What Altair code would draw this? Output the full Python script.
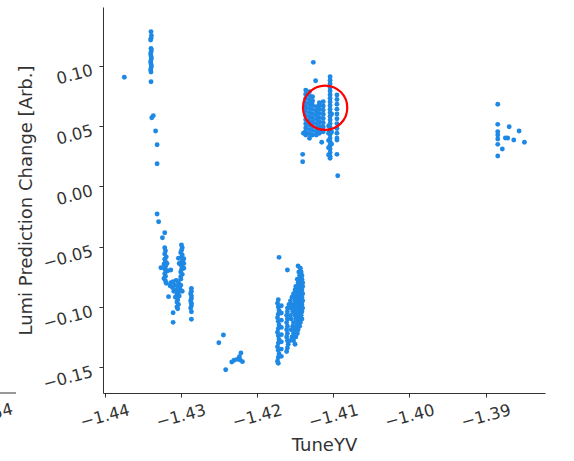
import altair as alt
import pandas as pd

# (TuneYV, SHAP value) pairs, one list per fill period
period_a = [
    (-1.4374, 0.0904),
    (-1.4339, 0.1282), (-1.43385, 0.1249), (-1.4339, 0.1227), (-1.43395, 0.1213),
    (-1.4339, 0.1144), (-1.43385, 0.1130), (-1.4339, 0.1114), (-1.43395, 0.1097),
    (-1.4339, 0.1081), (-1.43385, 0.1064), (-1.4339, 0.1048), (-1.43395, 0.1031),
    (-1.4339, 0.1014), (-1.43385, 0.0998), (-1.4339, 0.0981), (-1.43395, 0.0965),
    (-1.4339, 0.0948), (-1.4339, 0.0867),
    (-1.4338, 0.0569), (-1.4336, 0.0585), (-1.4333, 0.0459), (-1.4331, 0.0345),
    (-1.4331, 0.0187),
]

period_b = [
    (-1.4331, -0.0230), (-1.4329, -0.0294), (-1.4321, -0.0385), (-1.4324, -0.0426),
    (-1.4321, -0.0509), (-1.4320, -0.0535), (-1.4321, -0.0560), (-1.4319, -0.0585),
    (-1.4321, -0.0605), (-1.4320, -0.0625), (-1.4322, -0.0645), (-1.4320, -0.0665),
    (-1.4321, -0.0685), (-1.4319, -0.0705), (-1.4321, -0.0725), (-1.4320, -0.0745),
    (-1.4322, -0.0765), (-1.4320, -0.0785), (-1.4319, -0.0804),
    (-1.4326, -0.0675), (-1.4314, -0.0824), (-1.4313, -0.0694), (-1.4317, -0.0700),
    (-1.4318, -0.0640),
    (-1.4299, -0.0487), (-1.4298, -0.0510), (-1.4299, -0.0530), (-1.4300, -0.0550),
    (-1.4298, -0.0570), (-1.4299, -0.0590), (-1.4297, -0.0610), (-1.4299, -0.0630),
    (-1.4300, -0.0650), (-1.4298, -0.0670), (-1.4299, -0.0690), (-1.4300, -0.0710),
    (-1.4298, -0.0730), (-1.4300, -0.0750),
    (-1.4303, -0.0597), (-1.4296, -0.0680), (-1.4296, -0.0600), (-1.4302, -0.0640),
    (-1.4296, -0.0640),
    (-1.4306, -0.0780), (-1.4303, -0.0800), (-1.4308, -0.0820), (-1.4304, -0.0830),
    (-1.4301, -0.0850), (-1.4306, -0.0860), (-1.4309, -0.0870), (-1.4303, -0.0880),
    (-1.4305, -0.0900), (-1.4302, -0.0910), (-1.4307, -0.0920), (-1.4304, -0.0940),
    (-1.4305, -0.0960), (-1.4303, -0.0980), (-1.4300, -0.0820), (-1.4298, -0.0870),
    (-1.4311, -0.0840), (-1.4313, -0.0800), (-1.4310, -0.0790), (-1.4300, -0.0770),
    (-1.4305, -0.1000), (-1.4304, -0.1015),
    (-1.4316, -0.0915), (-1.4310, -0.1048), (-1.4310, -0.1128),
    (-1.4286, -0.0846), (-1.4286, -0.0870), (-1.4287, -0.0890), (-1.4286, -0.0910),
    (-1.4286, -0.0930), (-1.4287, -0.0950), (-1.4286, -0.0970), (-1.4286, -0.0990),
    (-1.4287, -0.1010), (-1.4286, -0.1040), (-1.4286, -0.1103),
]

period_c = [
    (-1.4244, -0.1233), (-1.4250, -0.1297), (-1.4241, -0.1521), (-1.4233, -0.1457),
    (-1.4230, -0.1443), (-1.4226, -0.1435), (-1.4223, -0.1413), (-1.4221, -0.1382),
    (-1.4219, -0.1454), (-1.4222, -0.1440),
]

period_d = [
    (-1.4171, -0.0589), (-1.4160, -0.0694), (-1.4146, -0.0661),
    (-1.4143, -0.068),
    (-1.4142, -0.071), (-1.4145, -0.071),
    (-1.4141, -0.074), (-1.4144, -0.074),
    (-1.4141, -0.077), (-1.4144, -0.077), (-1.4147, -0.077),
    (-1.4140, -0.080), (-1.4143, -0.080), (-1.4146, -0.080),
    (-1.4140, -0.083), (-1.4143, -0.083), (-1.4146, -0.083), (-1.4149, -0.083),
    (-1.4141, -0.086), (-1.4144, -0.086), (-1.4147, -0.086), (-1.4150, -0.086),
    (-1.4140, -0.089), (-1.4143, -0.089), (-1.4146, -0.089), (-1.4149, -0.089),
    (-1.4152, -0.089),
    (-1.4141, -0.092), (-1.4144, -0.092), (-1.4147, -0.092), (-1.4150, -0.092),
    (-1.4154, -0.092),
    (-1.4140, -0.095), (-1.4143, -0.095), (-1.4146, -0.095), (-1.4150, -0.095),
    (-1.4156, -0.095),
    (-1.4141, -0.098), (-1.4145, -0.098), (-1.4149, -0.098), (-1.4153, -0.098),
    (-1.4158, -0.098),
    (-1.4140, -0.101), (-1.4144, -0.101), (-1.4148, -0.101), (-1.4152, -0.101),
    (-1.4156, -0.101), (-1.4160, -0.101),
    (-1.4141, -0.104), (-1.4145, -0.104), (-1.4149, -0.104), (-1.4153, -0.104),
    (-1.4160, -0.104),
    (-1.4142, -0.107), (-1.4146, -0.107), (-1.4150, -0.107), (-1.4156, -0.107),
    (-1.4161, -0.107),
    (-1.4141, -0.110), (-1.4145, -0.110), (-1.4149, -0.110), (-1.4155, -0.110),
    (-1.4160, -0.110),
    (-1.4143, -0.113), (-1.4147, -0.113), (-1.4152, -0.113), (-1.4161, -0.113),
    (-1.4144, -0.116), (-1.4148, -0.116), (-1.4153, -0.116), (-1.4160, -0.116),
    (-1.4146, -0.119), (-1.4150, -0.119), (-1.4155, -0.119), (-1.4161, -0.119),
    (-1.4147, -0.122), (-1.4152, -0.122), (-1.4160, -0.122),
    (-1.4149, -0.125), (-1.4154, -0.125), (-1.4161, -0.125),
    (-1.4152, -0.128), (-1.4157, -0.128), (-1.4160, -0.128),
    (-1.4150, -0.131), (-1.4159, -0.131),
    (-1.4160, -0.134), (-1.4161, -0.137),
    (-1.4172, -0.094), (-1.4173, -0.097), (-1.4172, -0.100), (-1.4171, -0.103),
    (-1.4172, -0.106), (-1.4173, -0.109), (-1.4172, -0.112), (-1.4171, -0.115),
    (-1.4172, -0.118), (-1.4173, -0.121), (-1.4172, -0.124), (-1.4171, -0.127),
    (-1.4172, -0.130), (-1.4173, -0.133), (-1.4172, -0.136), (-1.4171, -0.139),
    (-1.4172, -0.142), (-1.4173, -0.145), (-1.4172, -0.1468),
    (-1.4168, -0.099), (-1.4168, -0.105), (-1.4168, -0.111), (-1.4168, -0.117),
    (-1.4168, -0.123), (-1.4168, -0.129), (-1.4168, -0.135), (-1.4168, -0.141),
]

period_e = [
    (-1.4126, 0.1028), (-1.4123, 0.0876),
    (-1.4136, 0.0798), (-1.4136, 0.0763), (-1.4136, 0.0728), (-1.4136, 0.0693),
    (-1.4136, 0.0658), (-1.4136, 0.0623), (-1.4136, 0.0588), (-1.4136, 0.0553),
    (-1.4136, 0.0518), (-1.4136, 0.0483), (-1.4136, 0.0448), (-1.4136, 0.0425),
    (-1.4131, 0.0785), (-1.4131, 0.0750), (-1.4131, 0.0715), (-1.4131, 0.0680),
    (-1.4131, 0.0645), (-1.4131, 0.0610), (-1.4131, 0.0575), (-1.4131, 0.0540),
    (-1.4131, 0.0505), (-1.4131, 0.0470), (-1.4131, 0.0435), (-1.4131, 0.0398),
    (-1.4127, 0.0743), (-1.4127, 0.0708), (-1.4127, 0.0673), (-1.4127, 0.0638),
    (-1.4127, 0.0603), (-1.4127, 0.0568), (-1.4127, 0.0533), (-1.4127, 0.0498),
    (-1.4127, 0.0463), (-1.4127, 0.0425),
    (-1.4122, 0.0660), (-1.4122, 0.0625), (-1.4122, 0.0590), (-1.4122, 0.0555),
    (-1.4122, 0.0520), (-1.4122, 0.0485), (-1.4122, 0.0450), (-1.4122, 0.0425),
    (-1.4118, 0.0693), (-1.4118, 0.0674), (-1.4118, 0.0640), (-1.4118, 0.0605),
    (-1.4118, 0.0570), (-1.4118, 0.0535), (-1.4118, 0.0500), (-1.4118, 0.0465),
    (-1.4118, 0.0440),
    (-1.4113, 0.0702), (-1.4113, 0.0667), (-1.4113, 0.0632), (-1.4113, 0.0597),
    (-1.4113, 0.0562), (-1.4113, 0.0527), (-1.4113, 0.0492), (-1.4113, 0.0453),
    (-1.4104, 0.0909), (-1.4104, 0.0880), (-1.4104, 0.0850), (-1.4104, 0.0820),
    (-1.4104, 0.0790), (-1.4104, 0.0760), (-1.4104, 0.0730), (-1.4104, 0.0700),
    (-1.4104, 0.0670), (-1.4104, 0.0640), (-1.4104, 0.0610), (-1.4104, 0.0580),
    (-1.4104, 0.0550), (-1.4104, 0.0520), (-1.4104, 0.0490), (-1.4104, 0.0460),
    (-1.4104, 0.0430), (-1.4104, 0.0400), (-1.4104, 0.0370), (-1.4104, 0.0340),
    (-1.4104, 0.0310), (-1.4104, 0.0280), (-1.4104, 0.0250), (-1.4104, 0.0232),
    (-1.4106, 0.0500), (-1.4106, 0.0440), (-1.4106, 0.0380), (-1.4106, 0.0320),
    (-1.4106, 0.0260), (-1.4102, 0.0600), (-1.4102, 0.0450), (-1.4102, 0.0350),
    (-1.4095, 0.0757), (-1.4095, 0.0720), (-1.4095, 0.0680), (-1.4095, 0.0640),
    (-1.4095, 0.0600), (-1.4095, 0.0560), (-1.4095, 0.0520), (-1.4095, 0.0480),
    (-1.4095, 0.0440), (-1.4095, 0.0400), (-1.4095, 0.0384),
    (-1.4095, 0.0265), (-1.4094, 0.0088),
    (-1.4140, 0.0265), (-1.4140, 0.0204), (-1.4115, 0.0365), (-1.4137, 0.0448),
    (-1.4139, 0.0440),
]

period_f = [
    (-1.3884, 0.0680), (-1.3884, 0.0514), (-1.3884, 0.0453), (-1.3884, 0.0425),
    (-1.3884, 0.0392), (-1.3884, 0.0348), (-1.3884, 0.0251),
    (-1.3869, 0.0494), (-1.3874, 0.0401), (-1.3871, 0.0401), (-1.3878, 0.0309),
    (-1.3863, 0.0384), (-1.3856, 0.0459), (-1.3849, 0.0365),
]

# highlighted group of points
ring_x = [-1.41105]
ring_y = [0.0652]

x_ticks = [-1.44, -1.43, -1.42, -1.41, -1.40, -1.39]
y_ticks = [-0.15, -0.10, -0.05, 0.00, 0.05, 0.10]

rows = period_a + period_b + period_c + period_d + period_e + period_f
points_df = pd.DataFrame(rows, columns=["TuneYV", "shap"])
ring_df = pd.DataFrame({"TuneYV": ring_x, "shap": ring_y})

FONT = "DejaVu Sans"
INK = "#333333"

x_scale = alt.Scale(domain=[-1.4402, -1.3822], nice=False, zero=False)
y_scale = alt.Scale(domain=[-0.1714, 0.1487], nice=False, zero=False)

x_axis = alt.Axis(
    values=x_ticks, format=".2f", title="TuneYV", grid=False,
    labelAngle=345, labelAlign="center", labelBaseline="middle",
    labelPadding=19, labelFlush=False, labelOverlap=False,
    labelFont=FONT, labelFontSize=16.5, labelColor=INK,
    tickSize=4, tickColor=INK, domainColor=INK,
    titleFont=FONT, titleFontSize=18, titleFontWeight="normal",
    titleColor=INK, titleY=52, titleBaseline="middle",
)
y_axis = alt.Axis(
    values=y_ticks, format=".2f", title="Lumi Prediction Change [Arb.]",
    grid=False, labelAngle=345, labelAlign="right", labelBaseline="middle",
    labelPadding=7, labelOffset=4, labelFlush=False, labelOverlap=False,
    labelFont=FONT, labelFontSize=16.5, labelColor=INK,
    tickSize=4, tickColor=INK, domainColor=INK,
    titleFont=FONT, titleFontSize=18, titleFontWeight="normal",
    titleColor=INK, titleX=-77, titleBaseline="middle",
)

points = alt.Chart(points_df).mark_circle(size=24, color="#1E88E5", opacity=1).encode(
    x=alt.X("TuneYV:Q", scale=x_scale, axis=x_axis),
    y=alt.Y("shap:Q", scale=y_scale, axis=y_axis),
)

ring = alt.Chart(ring_df).mark_point(
    shape="circle", size=1963, filled=False, color="red", strokeWidth=2.2, opacity=1
).encode(
    x=alt.X("TuneYV:Q", scale=x_scale),
    y=alt.Y("shap:Q", scale=y_scale),
)

# edge of the neighbouring panel's x axis
neighbour_axis = alt.Chart(pd.DataFrame({"v": [0]})).mark_rule(color=INK, strokeWidth=1).encode(
    x=alt.value(-110), x2=alt.value(-87), y=alt.value(386)
)
neighbour_label = alt.Chart(pd.DataFrame({"t": ["54"]})).mark_text(
    align="right", baseline="middle", angle=345, font=FONT, fontSize=16.5, color=INK
).encode(x=alt.value(-90.5), y=alt.value(402), text="t:N")

chart = (
    alt.layer(points, ring, neighbour_axis, neighbour_label)
    .properties(
        width=442, height=386,
        autosize=alt.AutoSizeParams(type="none"),
        padding={"left": 103, "top": 7, "right": 29, "bottom": 68},
        background="white",
    )
    .configure_view(stroke=None)
)

chart.save("out.html", embed_options={"renderer": "svg", "actions": False})
